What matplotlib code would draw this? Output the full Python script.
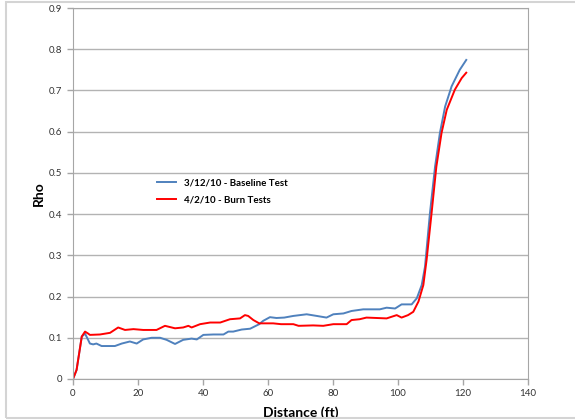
import matplotlib
matplotlib.use("Agg")
import matplotlib.pyplot as plt
from matplotlib.patches import Rectangle

plt.rcParams['font.family'] = ['Lato', 'DejaVu Sans']

# baseline run 3/12/10
base_x = [0, 1.1, 2.7, 3.7, 4.4, 5.2, 6.2, 7.2, 8.8, 11.4, 12.9, 15, 17.5, 19.6,
          21.6, 24.2, 26.8, 28.8, 31.4, 33.9, 36.5, 38.1, 40.1, 43.2, 46.3, 47.8,
          49.3, 51.9, 54.5, 57.3, 58.5, 60.6, 62.6, 65.0, 67.8, 71.9, 75, 78, 80.1,
          83.2, 85.7, 89.3, 94.4, 96.5, 99.1, 101.1, 104.2, 105.8, 107.3, 108.3,
          109.8, 111.4, 112.9, 114.5, 116.5, 119, 121]
base_y = [0, 0.022, 0.103, 0.110, 0.099, 0.086, 0.084, 0.086, 0.080, 0.080, 0.080,
          0.086, 0.091, 0.086, 0.096, 0.100, 0.100, 0.095, 0.085, 0.095, 0.098,
          0.096, 0.107, 0.108, 0.108, 0.115, 0.115, 0.120, 0.122, 0.133, 0.141,
          0.150, 0.148, 0.149, 0.153, 0.157, 0.153, 0.149, 0.157, 0.159, 0.165,
          0.169, 0.169, 0.173, 0.171, 0.181, 0.181, 0.196, 0.228, 0.272, 0.400,
          0.515, 0.597, 0.661, 0.710, 0.750, 0.774]

# burn run 4/2/10
burn_x = [0, 1.1, 2.7, 3.7, 4.7, 5.2, 8.3, 11.4, 13.9, 16, 18.6, 21.6, 25.7, 28.3,
          31.4, 33.9, 35.5, 36.5, 39.1, 42.2, 45.3, 48.3, 51.4, 52.9, 53.9, 55.5,
          57.3, 61.6, 64.0, 67.8, 69.4, 73.9, 77, 80.1, 84.2, 85.7, 88.2, 90.3,
          96.5, 99.6, 101.1, 103.1, 104.7, 106.3, 107.8, 108.8, 110.3, 111.8,
          113.4, 115, 117.5, 119.6, 121]
burn_y = [0, 0.022, 0.103, 0.115, 0.110, 0.107, 0.108, 0.112, 0.125, 0.119, 0.121,
          0.119, 0.119, 0.129, 0.123, 0.125, 0.129, 0.125, 0.133, 0.137, 0.137,
          0.145, 0.147, 0.155, 0.153, 0.143, 0.135, 0.135, 0.133, 0.133, 0.129,
          0.130, 0.129, 0.133, 0.133, 0.143, 0.145, 0.149, 0.147, 0.155, 0.149,
          0.155, 0.163, 0.188, 0.228, 0.289, 0.400, 0.515, 0.597, 0.653, 0.702,
          0.730, 0.743]

fig = plt.figure(figsize=(5.75, 4.2), dpi=100)
fig.patches.append(Rectangle((6 / 575, 2 / 420), 1.0, 416 / 420, transform=fig.transFigure,
                             fill=False, edgecolor='#d4d4d4', lw=1.5, zorder=0))
ax = fig.add_axes([73 / 575, 41 / 420, 455 / 575, 371 / 420])

ax.plot(base_x, base_y, color='#4F81BD', lw=1.4, label='3/12/10 - Baseline Test')
ax.plot(burn_x, burn_y, color='#FF0000', lw=1.4, label='4/2/10 - Burn Tests')

ax.set_xlim(0, 140)
ax.set_ylim(0, 0.9)
ax.set_xticks(range(0, 141, 20))
ax.set_yticks([i / 10 for i in range(10)])
ax.set_yticklabels(['0'] + ['0.%d' % i for i in range(1, 10)])
ax.yaxis.grid(True, color='#b3b3b3', lw=1)
ax.set_axisbelow(True)
for s in ax.spines.values():
    s.set_color('#a6a6a6')
ax.tick_params(colors='#a6a6a6', labelcolor='#333333', labelsize=7, length=4, width=1)

ax.set_xlabel('Distance (ft)', fontsize=10, fontweight='bold')
ax.set_ylabel('Rho', fontsize=10, fontweight='bold')
ax.xaxis.set_label_coords(0.5, -0.075)
ax.yaxis.set_label_coords(-0.062, 0.5)

ax.legend(loc='upper left', bbox_to_anchor=(0.165, 0.565), frameon=False,
          handlelength=2.0, labelspacing=0.9, prop={'weight': 'bold', 'size': 7})

fig.savefig('out.png', dpi=100)
